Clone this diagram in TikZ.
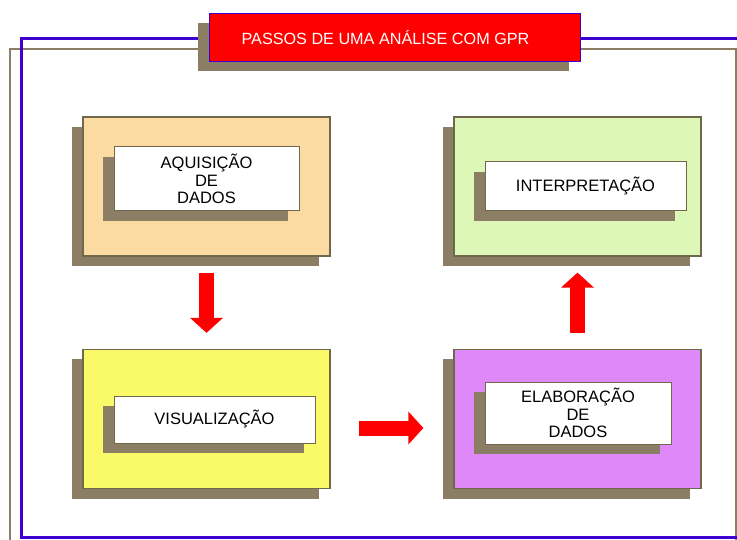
\documentclass[tikz,border=0pt]{standalone}
\usepackage{fontspec}
\setmainfont{Liberation Sans}
\usetikzlibrary{arrows.meta,shadows}

\definecolor{shadowc}{RGB}{140,126,100}
\definecolor{edge}{RGB}{112,104,74}
\definecolor{framebl}{RGB}{60,0,210}
\definecolor{peach}{RGB}{251,219,162}
\definecolor{lime}{RGB}{221,247,182}
\definecolor{lemon}{RGB}{250,249,104}
\definecolor{orchid}{RGB}{222,136,250}

\begin{document}
\begin{tikzpicture}[x=1pt, y=-1pt,
    outer/.style={draw=edge, line width=1.2pt, minimum width=247pt, minimum height=139pt, inner sep=0pt,
        drop shadow={shadow xshift=-11pt, shadow yshift=-10pt, fill=shadowc, opacity=1}},
    inner/.style={draw=edge, line width=1pt, fill=white, align=center, inner sep=0pt,
        font=\fontsize{16.5}{17.5}\selectfont,
        drop shadow={shadow xshift=-11pt, shadow yshift=-10pt, fill=shadowc, opacity=1}},
    flow/.style={red, line width=15pt, -{Triangle[width=32pt,length=15pt]}}]
    \useasboundingbox (0,0) rectangle (737,540);
    \fill[white] (0,0) rectangle (737,540);

    %frame
    \draw[shadowc, line width=2pt] (10,49) rectangle (736,547);
    \draw[framebl, line width=3pt] (21,39) rectangle (747,537);

    %title
    \node[draw=framebl, line width=1pt, fill=red, text=white, minimum width=371pt, minimum height=48pt,
        font=\fontsize{16.2}{18}\selectfont,
        drop shadow={shadow xshift=-11pt, shadow yshift=-9pt, fill=shadowc, opacity=1}]
        (title) at (394.5,38) {\hspace*{-18pt}PASSOS DE UMA ANÁLISE COM GPR};

    %nodes
    \node[outer, fill=peach] (acq) at (206.5,186.5) {};
    \node[inner, minimum width=185pt, minimum height=64pt] (acqtext) at (206.5,179) {AQUISIÇÃO\\DE\\DADOS};

    \node[outer, fill=lime] (interp) at (577.5,186.5) {};
    \node[inner, minimum width=201pt, minimum height=49pt] (interptext) at (585.5,186.5) {INTERPRETAÇÃO};

    \node[outer, fill=lemon] (vis) at (206.5,419) {};
    \node[inner, minimum width=201pt, minimum height=47pt] (vistext) at (214.5,419.5) {VISUALIZAÇÃO};

    \node[outer, fill=orchid] (elab) at (577.5,419) {};
    \node[inner, minimum width=186pt, minimum height=62pt] (elabtext) at (578,413) {ELABORAÇÃO\\DE\\DADOS};

    %arrows
    \draw[flow, shorten <=16pt, shorten >=16pt] (acq) -- (vis);
    \draw[flow, shorten <=28pt, shorten >=30pt] ([yshift=-9pt]vis.east) -- ([yshift=-9pt]elab.west);
    \draw[flow, shorten <=16pt, shorten >=16pt] (elab) -- (interp);
\end{tikzpicture}
\end{document}
